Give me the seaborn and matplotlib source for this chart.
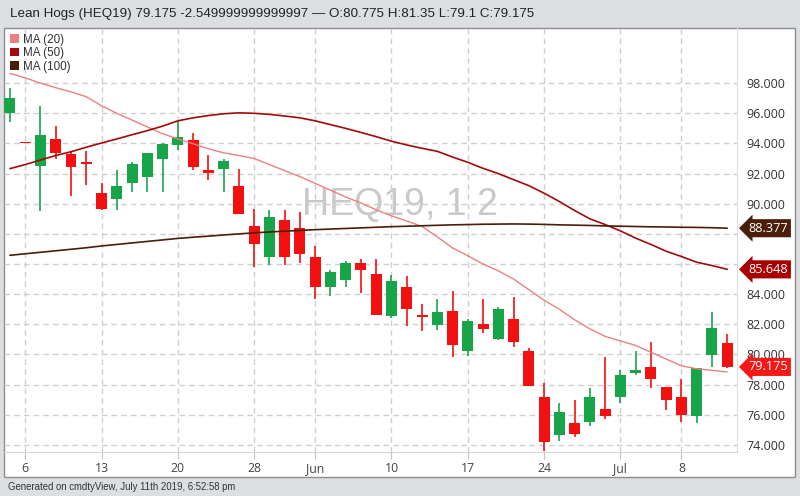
import numpy as np
import matplotlib
matplotlib.use('Agg')
from matplotlib import pyplot as plt
from matplotlib.patches import Patch, Rectangle
import matplotlib.transforms as mtransforms
import seaborn as sns

# data (daily candles, May 3 - Jul 11 2019)
dates = ['May 3', 'May 6', 'May 7', 'May 8', 'May 9', 'May 10',
         'May 13', 'May 14', 'May 15', 'May 16', 'May 17',
         'May 20', 'May 21', 'May 22', 'May 23', 'May 24',
         'May 28', 'May 29', 'May 30', 'May 31',
         'Jun 3', 'Jun 4', 'Jun 5', 'Jun 6', 'Jun 7',
         'Jun 10', 'Jun 11', 'Jun 12', 'Jun 13', 'Jun 14',
         'Jun 17', 'Jun 18', 'Jun 19', 'Jun 20', 'Jun 21',
         'Jun 24', 'Jun 25', 'Jun 26', 'Jun 27', 'Jun 28',
         'Jul 1', 'Jul 2', 'Jul 3', 'Jul 5',
         'Jul 8', 'Jul 9', 'Jul 10', 'Jul 11']
opens = [96.0, 94.0, 92.5, 94.3, 93.3, 92.72, 90.7, 90.3, 91.35, 91.75, 92.95,
         93.9, 94.2, 92.25, 92.3, 91.2, 88.55, 86.5, 88.95, 88.4,
         86.5, 84.45, 84.95, 86.05, 85.35, 82.55, 84.45, 82.55, 81.95, 82.9,
         80.2, 82.0, 81.0, 82.35, 80.25, 77.2, 74.65, 75.45, 75.55, 76.35,
         77.15, 78.75, 79.15, 77.85, 77.15, 75.95, 79.95, 80.775]
highs = [97.65, 94.0, 96.5, 95.15, 93.5, 93.5, 91.35, 92.25, 92.8, 93.35, 94.0,
         95.5, 94.7, 93.25, 93.0, 92.3, 89.65, 89.6, 89.6, 89.45,
         87.2, 85.6, 86.2, 86.35, 86.35, 85.3, 85.2, 83.35, 83.65, 84.2,
         82.35, 83.65, 83.15, 83.8, 80.45, 78.1, 76.8, 76.95, 77.8, 79.85,
         78.95, 80.2, 80.85, 77.85, 78.35, 79.1, 82.85, 81.35]
lows = [95.45, 94.0, 89.5, 92.95, 90.5, 91.25, 89.6, 89.6, 90.8, 90.8, 90.8,
        93.55, 92.25, 91.6, 90.75, 89.3, 85.8, 85.95, 85.95, 86.05,
        83.7, 83.85, 84.5, 84.05, 82.6, 82.4, 81.9, 81.55, 81.6, 79.85,
        79.9, 81.45, 80.95, 80.5, 77.9, 73.6, 74.25, 74.55, 75.25, 75.75,
        76.8, 78.65, 77.8, 76.3, 75.55, 75.45, 79.2, 79.1]
closes = [97.0, 94.0, 94.55, 93.4, 92.45, 92.65, 89.65, 91.2, 92.65, 93.35, 93.95,
          94.45, 92.45, 92.05, 92.85, 89.3, 87.3, 89.15, 86.5, 86.65,
          84.5, 85.5, 86.1, 85.6, 82.65, 84.85, 83.0, 82.5, 82.85, 80.6,
          82.25, 81.7, 83.05, 80.85, 77.9, 74.2, 76.2, 74.7, 77.15, 75.95,
          78.65, 78.95, 78.4, 76.95, 76.0, 79.1, 81.725, 79.175]

ma20 = [98.65, 98.35, 98.0, 97.7, 97.42, 97.1, 96.5, 96.0, 95.55, 95.1, 94.65,
        94.3, 93.98, 93.65, 93.38, 93.2, 93.0, 92.6, 92.2, 91.8,
        91.35, 90.9, 90.45, 90.05, 89.6, 89.2, 88.85, 88.5, 87.8, 87.07,
        86.55, 86.0, 85.55, 85.0, 84.3, 83.6, 83.0, 82.3, 81.7, 81.2,
        80.9, 80.6, 80.15, 79.7, 79.25, 79.05, 78.95, 78.84]
ma50 = [92.33, 92.6, 92.9, 93.2, 93.45, 93.75, 94.03, 94.3, 94.58, 94.85, 95.15,
        95.5, 95.7, 95.85, 95.97, 96.03, 96.0, 95.93, 95.82, 95.7,
        95.5, 95.25, 95.0, 94.73, 94.45, 94.15, 93.9, 93.68, 93.48, 93.1,
        92.75, 92.35, 92.0, 91.6, 91.2, 90.7, 90.15, 89.55, 89.0, 88.62,
        88.2, 87.72, 87.3, 86.85, 86.5, 86.12, 85.9, 85.65]
ma100 = [86.58, 86.68, 86.78, 86.88, 86.98, 87.08, 87.2, 87.3, 87.4, 87.5, 87.6,
         87.7, 87.78, 87.85, 87.93, 88.0, 88.07, 88.13, 88.18, 88.23,
         88.28, 88.32, 88.36, 88.4, 88.44, 88.48, 88.51, 88.54, 88.57, 88.6,
         88.62, 88.64, 88.65, 88.66, 88.65, 88.63, 88.6, 88.58, 88.56, 88.53,
         88.51, 88.49, 88.47, 88.46, 88.44, 88.43, 88.41, 88.38]

tick_dates = ['May 6', 'May 13', 'May 20', 'May 28', 'Jun 3', 'Jun 10',
              'Jun 17', 'Jun 24', 'Jul 1', 'Jul 8']
tick_labels = ['6', '13', '20', '28', 'Jun', '10', '17', '24', 'Jul', '8']
y_ticks = [74, 76, 78, 80, 82, 84, 86, 88, 90, 92, 94, 96, 98]
hidden_y = [86, 88]                    # covered by the price tags
last_vals = [88.377, 85.648, 79.175]   # MA(100), MA(50), close

title = ('Lean Hogs (HEQ19) 79.175 -2.549999999999997 \u2014 '
         'O:80.775 H:81.35 L:79.1 C:79.175')

UP = '#18a54a'
DOWN = '#f21010'
C20, C50, C100 = '#ec8080', '#a00a0a', '#4a1e08'

sns.set_style('white')
plt.rcParams['font.family'] = ['Liberation Sans', 'DejaVu Sans']

fig = plt.figure(figsize=(8, 4.96), dpi=100, facecolor='#dcdfe2')
W, H = 800, 496
fig.patches.append(Rectangle((4 / W, 1 - 477 / H), 791 / W, 449 / H,
                             transform=fig.transFigure, fc='white',
                             ec='#8c8c8c', lw=1, zorder=-5))
ax = fig.add_axes([4 / W, 1 - 452 / H, 733 / W, 424 / H])
ax.set_zorder(1)
ax.set_facecolor('none')

x = np.arange(len(dates))
o = np.array(opens); c = np.array(closes)
cols = [UP if cc > oo else DOWN for oo, cc in zip(o, c)]
body_lo = np.minimum(o, c)
body_h = np.maximum(np.abs(c - o), 0.1)

ax.vlines(x, lows, highs, colors=cols, lw=1.2, zorder=3)
ax.bar(x, body_h, bottom=body_lo, width=0.72, color=cols, lw=0, zorder=4)

sns.lineplot(x=x, y=ma20, ax=ax, color=C20, lw=1.0, zorder=5)
sns.lineplot(x=x, y=ma50, ax=ax, color=C50, lw=1.2, zorder=5)
sns.lineplot(x=x, y=ma100, ax=ax, color=C100, lw=1.2, zorder=5)

ax.set_xlim(-0.39, 47.64)
ax.set_ylim(73.53, 101.66)

ax.set_xticks([dates.index(d) for d in tick_dates])
ax.set_xticklabels(tick_labels, family=['Open Sans', 'DejaVu Sans'])
ax.yaxis.tick_right()
ax.set_yticks(y_ticks)
ax.set_yticklabels(['' if v in hidden_y else f'{v:.3f}' for v in y_ticks],
                   family=['Open Sans', 'DejaVu Sans'])
ax.tick_params(axis='x', length=5, color='#c4c4c4', labelsize=8.8,
               labelcolor='#444444', pad=2.5, direction='out', bottom=True)
ax.tick_params(axis='y', length=0, labelsize=9.0, labelcolor='#333333', pad=7)
ax.grid(True, ls=(0, (4, 3)), color='#cfcfcf', lw=1, zorder=1)
for s in ['top', 'left']:
    ax.spines[s].set_visible(False)
ax.spines['right'].set_color('#dddddd')
ax.spines['bottom'].set_color('#d4d4d4')
ax.set_xlabel('')
ax.set_ylabel('')

# watermark
ax.text(0.54, 0.583, 'HEQ19, 1 2', transform=ax.transAxes, ha='center',
        va='center', fontsize=27, color='#c9c9c9', zorder=2)

# price tags on the right
tr = mtransforms.blended_transform_factory(ax.transAxes, ax.transData)
for v, col in zip(last_vals, [C100, '#a80000', '#f41818']):
    ax.text(1.016, v, f'{v:.3f}', transform=tr, ha='left', va='center',
            color='white', fontsize=9.2, family=['Open Sans', 'DejaVu Sans'],
            zorder=10, clip_on=False,
            bbox=dict(boxstyle='larrow,pad=0.2', fc=col, ec='none'))

handles = [Patch(fc=C20, ec='none', label='MA (20)'),
           Patch(fc=C50, ec='none', label='MA (50)'),
           Patch(fc=C100, ec='none', label='MA (100)')]
leg = ax.legend(handles=handles, loc='upper left', bbox_to_anchor=(0.0, 1.0),
                frameon=False, handlelength=0.75, handleheight=0.75,
                handletextpad=0.4, labelspacing=0.12, fontsize=8.4,
                borderaxespad=0.2, borderpad=0.3)
for t in leg.get_texts():
    t.set_color('#333333')

fig.text(10 / W, 1 - 14 / H, title, ha='left', va='center', fontsize=9.6,
         color='#222222')
fig.text(8 / W, 1 - 487 / H, 'Generated on cmdtyView, July 11th 2019, 6:52:58 pm',
         ha='left', va='center', fontsize=6.9, color='#333333')

fig.savefig('out.png', dpi=100, facecolor=fig.get_facecolor())
